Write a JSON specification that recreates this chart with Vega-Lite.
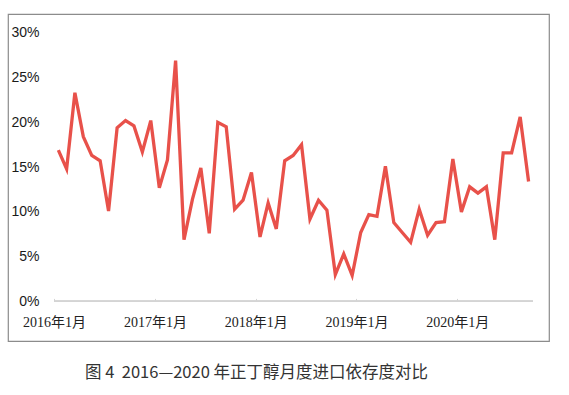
{
  "$schema": "https://vega.github.io/schema/vega-lite/v6.json",
  "width": 541,
  "height": 327,
  "autosize": {"type": "none"},
  "padding": {"left": 8, "top": 14, "right": 20, "bottom": 54},
  "background": "#ffffff",
  "config": {
    "view": {"stroke": "#8c8c8c", "strokeWidth": 1.2},
    "axis": {"grid": false}
  },
  "title": {
    "text": "图 4\u00a0\u00a02016—2020 年正丁醇月度进口依存度对比",
    "orient": "bottom",
    "anchor": "middle",
    "dx": -22,
    "offset": 24,
    "font": "Noto Sans CJK SC",
    "fontSize": 16.5,
    "fontWeight": "normal",
    "color": "#333333"
  },
  "data": {
    "values": [
      {"month": "2016-01", "ratio": 16.9},
      {"month": "2016-02", "ratio": 14.8},
      {"month": "2016-03", "ratio": 23.3},
      {"month": "2016-04", "ratio": 18.4},
      {"month": "2016-05", "ratio": 16.3},
      {"month": "2016-06", "ratio": 15.7},
      {"month": "2016-07", "ratio": 10.1},
      {"month": "2016-08", "ratio": 19.4},
      {"month": "2016-09", "ratio": 20.2},
      {"month": "2016-10", "ratio": 19.6},
      {"month": "2016-11", "ratio": 16.7},
      {"month": "2016-12", "ratio": 20.2},
      {"month": "2017-01", "ratio": 12.7},
      {"month": "2017-02", "ratio": 15.8},
      {"month": "2017-03", "ratio": 26.9},
      {"month": "2017-04", "ratio": 6.9},
      {"month": "2017-05", "ratio": 11.4},
      {"month": "2017-06", "ratio": 14.9},
      {"month": "2017-07", "ratio": 7.6},
      {"month": "2017-08", "ratio": 20.0},
      {"month": "2017-09", "ratio": 19.5},
      {"month": "2017-10", "ratio": 10.3},
      {"month": "2017-11", "ratio": 11.3},
      {"month": "2017-12", "ratio": 14.4},
      {"month": "2018-01", "ratio": 7.2},
      {"month": "2018-02", "ratio": 11.0},
      {"month": "2018-03", "ratio": 8.1},
      {"month": "2018-04", "ratio": 15.7},
      {"month": "2018-05", "ratio": 16.3},
      {"month": "2018-06", "ratio": 17.5},
      {"month": "2018-07", "ratio": 9.2},
      {"month": "2018-08", "ratio": 11.3},
      {"month": "2018-09", "ratio": 10.2},
      {"month": "2018-10", "ratio": 3.0},
      {"month": "2018-11", "ratio": 5.3},
      {"month": "2018-12", "ratio": 2.9},
      {"month": "2019-01", "ratio": 7.7},
      {"month": "2019-02", "ratio": 9.7},
      {"month": "2019-03", "ratio": 9.5},
      {"month": "2019-04", "ratio": 15.1},
      {"month": "2019-05", "ratio": 8.8},
      {"month": "2019-06", "ratio": 7.7},
      {"month": "2019-07", "ratio": 6.6},
      {"month": "2019-08", "ratio": 10.3},
      {"month": "2019-09", "ratio": 7.4},
      {"month": "2019-10", "ratio": 8.8},
      {"month": "2019-11", "ratio": 8.9},
      {"month": "2019-12", "ratio": 15.9},
      {"month": "2020-01", "ratio": 10.0},
      {"month": "2020-02", "ratio": 12.8},
      {"month": "2020-03", "ratio": 12.1},
      {"month": "2020-04", "ratio": 12.8},
      {"month": "2020-05", "ratio": 6.9},
      {"month": "2020-06", "ratio": 16.6},
      {"month": "2020-07", "ratio": 16.6},
      {"month": "2020-08", "ratio": 20.6},
      {"month": "2020-09", "ratio": 13.4}
    ]
  },
  "layer": [
    {
      "mark": {"type": "rule", "color": "#d4d4d4", "strokeWidth": 1},
      "encoding": {
        "x": {"datum": {"year": 2016, "month": 1, "date": 1}, "type": "temporal"},
        "x2": {"datum": {"year": 2020, "month": 10, "date": 1}},
        "y": {"datum": 0, "type": "quantitative"}
      }
    },
    {
      "mark": {"type": "line", "color": "#e8514a", "strokeWidth": 3.3, "strokeJoin": "miter", "interpolate": "linear"},
      "encoding": {
        "x": {
          "field": "month",
          "type": "temporal",
          "timeUnit": "yearmonth",
          "bandPosition": 0.5,
          "scale": {
            "domain": [
              {"year": 2015, "month": 7, "date": 18},
              {"year": 2020, "month": 11, "date": 29}
            ],
            "nice": false
          },
          "axis": {
            "title": null,
            "domain": false,
            "values": [
              {"year": 2016, "month": 1, "date": 1},
              {"year": 2017, "month": 1, "date": 1},
              {"year": 2018, "month": 1, "date": 1},
              {"year": 2019, "month": 1, "date": 1},
              {"year": 2020, "month": 1, "date": 1}
            ],
            "format": "%Y年%-m月",
            "formatType": "time",
            "offset": -39.6,
            "tickSize": -3,
            "tickColor": "#d4d4d4",
            "labelPadding": 17,
            "labelFont": "Liberation Serif, Noto Sans CJK SC",
            "labelFontSize": 14,
            "labelColor": "#222222",
            "labelFlush": false,
            "labelOverlap": false
          }
        },
        "y": {
          "field": "ratio",
          "type": "quantitative",
          "scale": {"domain": [-4.42, 32.1], "nice": false, "zero": false},
          "axis": {
            "title": null,
            "domain": false,
            "ticks": false,
            "tickSize": 0,
            "values": [0, 5, 10, 15, 20, 25, 30],
            "labelExpr": "datum.value + '%'",
            "offset": -36,
            "labelPadding": 5,
            "labelFont": "Liberation Sans",
            "labelFontSize": 14,
            "labelColor": "#1a1a1a"
          }
        }
      }
    }
  ]
}
